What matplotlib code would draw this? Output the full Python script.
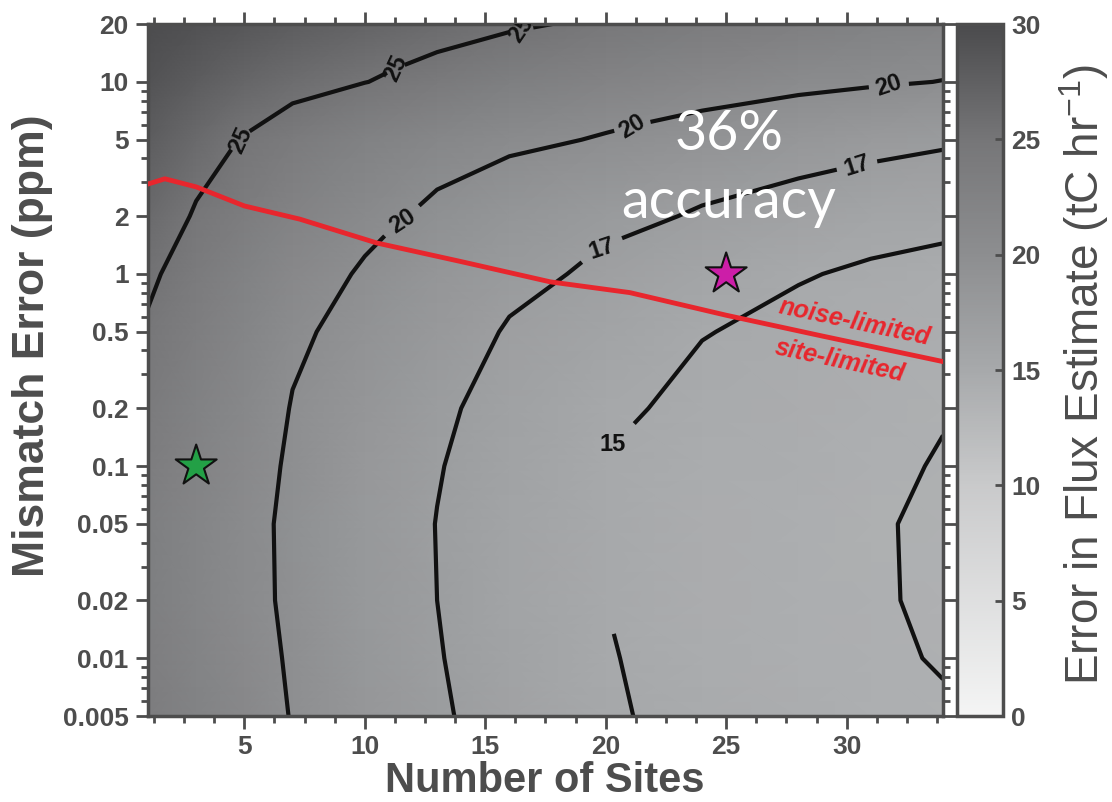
import numpy as np
import matplotlib.pyplot as plt
from matplotlib.colors import LinearSegmentedColormap
from matplotlib.ticker import AutoMinorLocator, FixedLocator, FixedFormatter, LogLocator, NullFormatter

plt.rcParams['font.family'] = ['Liberation Sans', 'DejaVu Sans']
plt.rcParams['mathtext.fontset'] = 'custom'
plt.rcParams['mathtext.rm'] = 'Liberation Sans'

# Rejilla: numero de sitios (columnas) y error de mismatch en ppm (filas)
sites = [1, 3, 5, 7, 10, 13, 16, 20, 24, 28, 31, 34]
mismatch = [0.005, 0.01, 0.02, 0.05, 0.1, 0.2, 0.5, 1, 2, 5, 10, 20]

# Error en el flujo estimado (tC/hr), una lista por nivel de mismatch
err_0005 = [23.5, 22.3, 21.1, 19.9, 18.3, 17.25, 16.2, 15.12, 14.7, 14.35, 14.15, 14.05]
err_001 = [23.3, 22.1, 20.9, 19.75, 18.2, 17.1, 16.1, 15.07, 14.6, 14.25, 14.1, 13.96]
err_002 = [23.2, 21.9, 20.7, 19.6, 18.0, 17.0, 16.0, 14.98, 14.5, 14.2, 14.07, 13.9]
err_005 = [23.2, 21.9, 20.7, 19.55, 17.95, 16.97, 15.95, 14.98, 14.5, 14.2, 14.06, 13.9]
err_01 = [23.5, 22.2, 20.9, 19.7, 18.15, 17.1, 16.1, 15.0, 14.6, 14.3, 14.12, 13.96]
err_02 = [24.0, 22.6, 21.3, 19.9, 18.4, 17.3, 16.4, 15.2, 14.75, 14.45, 14.25, 14.05]
err_05 = [24.8, 23.3, 21.9, 20.5, 19.0, 17.9, 16.85, 15.9, 15.05, 14.7, 14.5, 14.35]
err_1 = [25.4, 23.9, 22.5, 21.1, 19.75, 18.5, 17.6, 16.6, 15.8, 15.1, 14.8, 14.6]
err_2 = [26.3, 24.8, 23.5, 22.2, 20.8, 19.5, 18.6, 17.6, 16.8, 16.2, 15.8, 15.5]
err_5 = [27.8, 26.3, 24.9, 23.8, 22.5, 21.5, 20.6, 19.8, 19.0, 18.3, 17.8, 17.35]
err_10 = [29.0, 27.8, 26.8, 26.0, 25.05, 24.1, 23.2, 22.2, 21.4, 20.7, 20.3, 19.95]
err_20 = [29.8, 29.2, 28.5, 27.8, 27.0, 26.2, 25.4, 24.5, 23.7, 23.0, 22.6, 22.2]

# Frontera entre regimen limitado por ruido y por sitios
boundary_sites = [1, 1.7, 3, 5, 7.3, 10.5, 14, 17.7, 21, 25, 29, 34]
boundary_mismatch = [2.94, 3.13, 2.84, 2.26, 1.93, 1.45, 1.16, 0.91, 0.80, 0.61, 0.475, 0.35]

# Casos marcados con estrellas
star_sites = [3, 25]
star_mismatch = [0.1, 1.0]
star_colors = ['#23a046', '#cc1ea8']

labeled_levels = [15, 17, 20, 25]
extra_levels = [14]
y_ticks = [0.005, 0.01, 0.02, 0.05, 0.1, 0.2, 0.5, 1, 2, 5, 10, 20]
y_ticklabels = ['0.005', '0.01', '0.02', '0.05', '0.1', '0.2', '0.5', '1', '2', '5', '10', '20']
x_ticks = [5, 10, 15, 20, 25, 30]
cbar_ticks = [0, 5, 10, 15, 20, 25, 30]

flux_error = np.array([err_0005, err_001, err_002, err_005, err_01, err_02,
                       err_05, err_1, err_2, err_5, err_10, err_20])

text_gray = '#4d4d4d'
red = '#e8262d'
cmap = LinearSegmentedColormap.from_list('grises', [
    (0.0, '#f4f4f4'), (10 / 30, '#c9cacb'), (15 / 30, '#a7a9ab'),
    (20 / 30, '#8d8e90'), (25 / 30, '#767678'), (1.0, '#4b4b4d')])

fig = plt.figure(figsize=(11.12, 8.02), dpi=100)
ax = fig.add_axes([0.1331, 0.1072, 0.7149, 0.8628])
cax = fig.add_axes([0.8606, 0.1072, 0.0414, 0.8628])

mesh = ax.pcolormesh(sites, mismatch, flux_error, shading='gouraud',
                     cmap=cmap, vmin=0, vmax=30)
cs = ax.contour(sites, mismatch, flux_error, levels=labeled_levels,
                colors='#111111', linewidths=3)
ax.contour(sites, mismatch, flux_error, levels=extra_levels,
           colors='#111111', linewidths=3)
label_pos = [(4.8, 5.0), (11.3, 11.7), (16.9, 18.5),
             (11.5, 1.98), (21.0, 6.0), (31.5, 10.1),
             (19.8, 1.43), (30.4, 3.74),
             (20.3, 0.19)]
clabels = ax.clabel(cs, manual=label_pos, inline=True,
                    fmt='%d', fontsize=17, inline_spacing=8)
for t in clabels:
    t.set_fontweight('bold')
    t.set_color('#111111')
    if t.get_text() == '15':
        # etiqueta horizontal, algo separada de la linea
        t.set_rotation(0)
        t.set_position((20.3, 0.13))

ax.plot(boundary_sites, boundary_mismatch, color=red, lw=3.5, zorder=4)
ax.scatter(star_sites, star_mismatch, marker='*', s=31 ** 2, c=star_colors,
           edgecolors='#111111', linewidths=1.5, zorder=5)

ax.text(0.889, 0.569, 'noise-limited', transform=ax.transAxes, color=red,
        fontsize=18, fontweight='bold', fontstyle='italic', rotation=-12,
        rotation_mode='anchor', ha='center', va='center')
ax.text(0.870, 0.513, 'site-limited', transform=ax.transAxes, color=red,
        fontsize=18, fontweight='bold', fontstyle='italic', rotation=-12,
        rotation_mode='anchor', ha='center', va='center')
ax.text(0.731, 0.818, '36%', transform=ax.transAxes, color='white',
        fontsize=40, family='Lato', ha='center', va='baseline')
ax.text(0.731, 0.720, 'accuracy', transform=ax.transAxes, color='white',
        fontsize=40, family='Lato', ha='center', va='baseline')

# Ejes
ax.set_yscale('log')
ax.set_xlim(1, 34)
ax.set_ylim(0.005, 20)
ax.xaxis.set_major_locator(FixedLocator(x_ticks))
ax.xaxis.set_minor_locator(AutoMinorLocator(4))
ax.yaxis.set_major_locator(FixedLocator(y_ticks))
ax.yaxis.set_major_formatter(FixedFormatter(y_ticklabels))
ax.yaxis.set_minor_locator(LogLocator(subs=np.arange(2, 10)))
ax.yaxis.set_minor_formatter(NullFormatter())
ax.tick_params(which='both', direction='out', top=True, right=True,
               color=text_gray, width=2, labelcolor=text_gray)
ax.tick_params(which='major', length=9, labelsize=19, pad=5)
ax.tick_params(which='minor', length=5)
for lab in ax.get_xticklabels() + ax.get_yticklabels():
    lab.set_fontweight('bold')
for sp in ax.spines.values():
    sp.set_linewidth(2.5)
    sp.set_color(text_gray)

# Titulos de los ejes
fig.text(0.490, 1 - 781 / 802, 'Number of Sites', fontsize=30,
         fontweight='bold', color=text_gray, ha='center', va='center')
fig.text(33 / 1112, 1 - 346 / 802, 'Mismatch Error (ppm)', fontsize=32,
         fontweight='bold', color=text_gray, rotation=90,
         ha='center', va='center')

# Barra de color
cbar = fig.colorbar(mesh, cax=cax, ticks=cbar_ticks)
cbar.outline.set_linewidth(2.5)
cbar.outline.set_edgecolor(text_gray)
cax.tick_params(direction='in', length=6, width=2, color=text_gray,
                labelcolor=text_gray, labelsize=19, pad=6)
for lab in cax.get_yticklabels():
    lab.set_fontweight('bold')
fig.text(1084 / 1112, 1 - 374 / 802,
         'Error in Flux Estimate (tC hr$^{\\mathregular{-1}}$)',
         fontsize=33, color=text_gray, rotation=90, ha='center', va='center')

fig.savefig('out.png', dpi=100)
